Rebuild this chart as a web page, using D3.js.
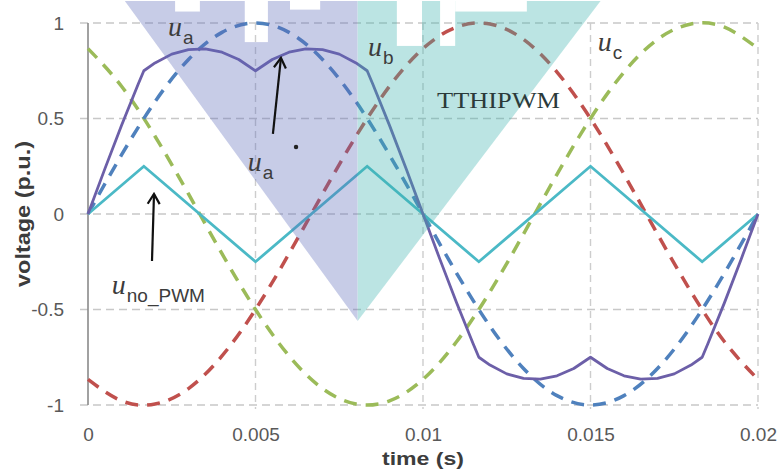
<!DOCTYPE html>
<html>
<head>
<meta charset="utf-8">
<title>TTHIPWM voltages</title>
<style>
  body { margin: 0; background: #fff; }
  .tick text { font-family: "Liberation Sans", Arial, sans-serif; fill: #595959; }
  .axis-title { font-family: "Liberation Sans", Arial, sans-serif; font-weight: bold; fill: #3c3c3c; }
  .sym { font-family: "Liberation Serif", serif; font-style: italic; fill: #3c3c3c; }
  .sub { font-family: "Liberation Sans", sans-serif; font-style: normal; fill: #3c3c3c; }
</style>
</head>
<body>
<svg id="chart"></svg>
<script src="https://d3js.org/d3.v7.min.js"></script>
<script>
var width = 779;
var height = 471;

// sampled every 1 ms
var timeGrid = [0, 0.001, 0.002, 0.003, 0.004, 0.005, 0.006, 0.007, 0.008, 0.009, 0.01,
                0.011, 0.012, 0.013, 0.014, 0.015, 0.016, 0.017, 0.018, 0.019, 0.02];
var uaValues = [0, 0.309, 0.588, 0.809, 0.951, 1, 0.951, 0.809, 0.588, 0.309, 0,
                -0.309, -0.588, -0.809, -0.951, -1, -0.951, -0.809, -0.588, -0.309, 0];
var ubValues = [-0.866, -0.978, -0.995, -0.914, -0.743, -0.5, -0.208, 0.105, 0.407, 0.669, 0.866,
                0.978, 0.995, 0.914, 0.743, 0.5, 0.208, -0.105, -0.407, -0.669, -0.866];
var ucValues = [0.866, 0.669, 0.407, 0.105, -0.208, -0.5, -0.743, -0.914, -0.995, -0.978, -0.866,
                -0.669, -0.407, -0.105, 0.208, 0.5, 0.743, 0.914, 0.995, 0.978, 0.866];

// modulated reference ua*
var uaStarTimes = [0, 0.0005, 0.001, 0.0015, 0.001667, 0.002, 0.0025, 0.003, 0.0035, 0.004, 0.0045,
                   0.005, 0.0055, 0.006, 0.0065, 0.007, 0.0075, 0.008, 0.008333, 0.0085, 0.009, 0.0095,
                   0.01, 0.0105, 0.011, 0.0115, 0.011667, 0.012, 0.0125, 0.013, 0.0135, 0.014, 0.0145,
                   0.015, 0.0155, 0.016, 0.0165, 0.017, 0.0175, 0.018, 0.018333, 0.0185, 0.019, 0.0195, 0.02];
var uaStarValues = [0, 0.235, 0.464, 0.681, 0.75, 0.791, 0.837, 0.861, 0.865, 0.847, 0.809,
                    0.75, 0.809, 0.847, 0.865, 0.861, 0.837, 0.791, 0.75, 0.681, 0.464, 0.235,
                    0, -0.235, -0.464, -0.681, -0.75, -0.791, -0.837, -0.861, -0.865, -0.847, -0.809,
                    -0.75, -0.809, -0.847, -0.865, -0.861, -0.837, -0.791, -0.75, -0.681, -0.464, -0.235, 0];

// zero-sequence (no PWM) signal
var noPwmTimes = [0, 0.001667, 0.005, 0.008333, 0.011667, 0.015, 0.018333, 0.02];
var noPwmValues = [0, 0.25, -0.25, 0.25, -0.25, 0.25, -0.25, 0];

var xTicks = [0, 0.005, 0.01, 0.015, 0.02];
var xTickLabels = ["0", "0.005", "0.01", "0.015", "0.02"];
var yTicks = [-1, -0.5, 0, 0.5, 1];
var yTickLabels = ["-1", "-0.5", "0", "0.5", "1"];

var svg = d3.select("#chart").attr("width", width).attr("height", height);

var x = d3.scaleLinear().domain([0, 0.02]).range([88, 758]);
var y = d3.scaleLinear().domain([-1, 1]).range([405, 23]);

// grid
var grid = svg.append("g");
grid.selectAll("line.h").data(yTicks).enter().append("line")
    .attr("x1", x(0) - 8).attr("x2", x(0.02))
    .attr("y1", function(d) { return y(d); }).attr("y2", function(d) { return y(d); })
    .attr("stroke", "#c8c8c8").attr("stroke-width", 1.6).attr("stroke-dasharray", "8,5");
grid.selectAll("line.v").data(xTicks.slice(1)).enter().append("line")
    .attr("x1", function(d) { return x(d); }).attr("x2", function(d) { return x(d); })
    .attr("y1", y(1)).attr("y2", y(-1) + 4)
    .attr("stroke", "#cdcdcd").attr("stroke-width", 1.4).attr("stroke-dasharray", "7,5");

svg.append("line")
    .attr("x1", x(0)).attr("x2", x(0)).attr("y1", y(1)).attr("y2", y(-1))
    .attr("stroke", "#8a8a8a").attr("stroke-width", 1.6);

// axes (labels only)
var yAxis = svg.append("g").attr("transform", "translate(" + x(0) + ",0)")
    .call(d3.axisLeft(y).tickValues(yTicks).tickSize(0).tickPadding(24)
        .tickFormat(function(d, i) { return yTickLabels[i]; }));
yAxis.select(".domain").remove();
yAxis.selectAll("text").style("font-size", "19px");

var xAxis = svg.append("g").attr("transform", "translate(0," + y(-1) + ")")
    .call(d3.axisBottom(x).tickValues(xTicks).tickSize(0).tickPadding(23)
        .tickFormat(function(d, i) { return xTickLabels[i]; }));
xAxis.select(".domain").remove();
xAxis.selectAll("text").style("font-size", "19px");

svg.append("text").attr("class", "axis-title")
    .attr("x", x(0.01)).attr("y", 465).attr("text-anchor", "middle")
    .attr("textLength", 82).attr("lengthAdjust", "spacingAndGlyphs")
    .style("font-size", "19px").text("time (s)");

svg.append("text").attr("class", "axis-title")
    .attr("transform", "translate(30," + y(0) + ") rotate(-90)")
    .attr("text-anchor", "middle")
    .attr("textLength", 146).attr("lengthAdjust", "spacingAndGlyphs")
    .style("font-size", "20px").text("voltage (p.u.)");

// series
var sineLine = d3.line()
    .x(function(d) { return x(d[0]); })
    .y(function(d) { return y(d[1]); })
    .curve(d3.curveNatural);
var straightLine = d3.line()
    .x(function(d) { return x(d[0]); })
    .y(function(d) { return y(d[1]); });

function pairs(ts, vs) { return ts.map(function(t, i) { return [t, vs[i]]; }); }

var dashed = [
    {vals: ubValues, color: "#c0504d"},
    {vals: ucValues, color: "#9bbb59"},
    {vals: uaValues, color: "#4f81bd"}
];
svg.append("g").selectAll("path").data(dashed).enter().append("path")
    .attr("d", function(d) { return sineLine(pairs(timeGrid, d.vals)); })
    .attr("fill", "none")
    .attr("stroke", function(d) { return d.color; })
    .attr("stroke-width", 3.5)
    .attr("stroke-dasharray", "13,9");

svg.append("path")
    .attr("d", straightLine(pairs(noPwmTimes, noPwmValues)))
    .attr("fill", "none").attr("stroke", "#4bb9c6").attr("stroke-width", 2.8);

svg.append("path")
    .attr("d", straightLine(pairs(uaStarTimes, uaStarValues)))
    .attr("fill", "none").attr("stroke", "#6c5fa8").attr("stroke-width", 2.8)
    .attr("stroke-linejoin", "round");

// watermark overlay
var wmLeft = [[0.0011, 1.115], [0.00805, 1.115], [0.00805, -0.56]];
var wmRight = [[0.00805, 1.115], [0.0153, 1.115], [0.00805, -0.56]];
var wmHoles = [[0.0026, 0.00334, 1.06], [0.00468, 0.00537, 0.9], [0.00603, 0.00693, 1.07],
               [0.00922, 0.00997, 0.88], [0.01051, 0.01096, 0.88], [0.01096, 0.0131, 1.06]];

var defs = svg.append("defs");
var mask = defs.append("mask").attr("id", "wmMask");
mask.append("rect").attr("width", width).attr("height", height).attr("fill", "white");
mask.selectAll("rect.hole").data(wmHoles).enter().append("rect")
    .attr("x", function(d) { return x(d[0]); })
    .attr("width", function(d) { return x(d[1]) - x(d[0]); })
    .attr("y", 0)
    .attr("height", function(d) { return y(d[2]); })
    .attr("fill", "black");

var wm = svg.append("g").attr("mask", "url(#wmMask)").attr("opacity", 0.34);
var poly = function(pts) { return pts.map(function(p) { return x(p[0]) + "," + y(p[1]); }).join(" "); };
wm.append("polygon").attr("points", poly(wmLeft)).attr("fill", "#5d6bbb");
wm.append("polygon").attr("points", poly(wmRight)).attr("fill", "#3bb3ae");

// arrows
defs.append("marker").attr("id", "head")
    .attr("viewBox", "-12 -8 14 16").attr("refX", 0).attr("refY", 0)
    .attr("markerWidth", 14).attr("markerHeight", 16)
    .attr("markerUnits", "userSpaceOnUse").attr("orient", "auto")
    .append("path").attr("d", "M-10,-6 L0,0 L-10,6")
    .attr("fill", "none").attr("stroke", "#111").attr("stroke-width", 2.2);

var arrows = [
    [[0.00552, 0.419], [0.00576, 0.817]],
    [[0.00191, -0.246], [0.00197, 0.105]]
];
svg.append("g").selectAll("line").data(arrows).enter().append("line")
    .attr("x1", function(d) { return x(d[0][0]); }).attr("y1", function(d) { return y(d[0][1]); })
    .attr("x2", function(d) { return x(d[1][0]); }).attr("y2", function(d) { return y(d[1][1]); })
    .attr("stroke", "#111").attr("stroke-width", 2.2).attr("marker-end", "url(#head)");

// labels
var labels = [
    {t: 0.00239, v: 0.932, sub: "a"},
    {t: 0.00836, v: 0.827, sub: "b"},
    {t: 0.01522, v: 0.853, sub: "c"},
    {t: 0.00477, v: 0.225, sub: "a"},
    {t: 0.00071, v: -0.419, sub: "no_PWM"}
];
var lab = svg.append("g").selectAll("text").data(labels).enter().append("text")
    .attr("class", "sym")
    .attr("x", function(d) { return x(d.t); })
    .attr("y", function(d) { return y(d.v); })
    .style("font-size", "28px");
lab.append("tspan").text("u");
lab.append("tspan").attr("class", "sub").attr("dy", 8).attr("dx", 1)
    .style("font-size", "19px").text(function(d) { return d.sub; });

svg.append("circle").attr("cx", x(0.00621)).attr("cy", y(0.351)).attr("r", 2.2).attr("fill", "#222");

svg.append("text")
    .attr("x", x(0.01042)).attr("y", y(0.555))
    .attr("textLength", 123).attr("lengthAdjust", "spacingAndGlyphs")
    .style("font-family", "'Liberation Serif', serif").style("font-size", "24px")
    .style("fill", "#2b3a3a").text("TTHIPWM");
</script>
</body>
</html>
